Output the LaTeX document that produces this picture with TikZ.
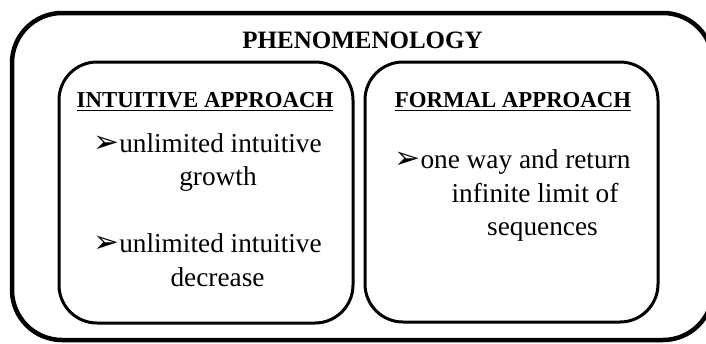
\documentclass[tikz,border=0pt]{standalone}
\usepackage{fontspec}
\setmainfont{Liberation Serif}
\newfontfamily\symfont{DejaVu Sans}
\newcommand{\arrowmark}{{\symfont\fontsize{31}{33}\selectfont ➢}}
\begin{document}
\begin{tikzpicture}[x=1pt,y=-1pt,
  outerbox/.style={draw=black,line width=4.5pt,rounded corners=50pt},
  innerbox/.style={draw=black,line width=3pt,rounded corners=38pt},
  titletext/.style={font=\fontsize{25}{30}\selectfont\bfseries,anchor=base,inner sep=0pt},
  headtext/.style={font=\fontsize{22.8}{28}\selectfont\bfseries,anchor=base,inner sep=0pt},
  bodytext/.style={font=\fontsize{27.3}{33}\selectfont,anchor=base,inner sep=0pt},
  uline/.style={line width=1.4pt}
]
\useasboundingbox (0,0) rectangle (706,343);
\begin{scope}
\clip (0,0) rectangle (706,343);
\draw[outerbox] (12,13) rectangle (713,340);
\end{scope}
\draw[innerbox] (59,62) rectangle (353,323);
\draw[innerbox] (365,62) rectangle (658,322);

\node[titletext] (title) at (362.5,48) {PHENOMENOLOGY};

\node[headtext] (hleft) at (205,107) {INTUITIVE APPROACH};
\node[headtext] (hright) at (513,107) {FORMAL APPROACH};
\draw[uline] ([yshift=-3.5pt]hleft.base west) -- ([yshift=-3.5pt]hleft.base east);
\draw[uline] ([yshift=-3.5pt]hright.base west) -- ([yshift=-3.5pt]hright.base east);

\node[bodytext] (l1) at (207.5,152) {\arrowmark unlimited intuitive};
\node[bodytext] (l2) at (218,185) {growth};
\node[bodytext] (l3) at (207.5,252) {\arrowmark unlimited intuitive};
\node[bodytext] (l4) at (217.5,286) {decrease};

\node[bodytext] (r1) at (512.5,168) {\arrowmark one way and return};
\node[bodytext] (r2) at (535,202) {infinite limit of};
\node[bodytext] (r3) at (542.5,235) {sequences};
\end{tikzpicture}
\end{document}
